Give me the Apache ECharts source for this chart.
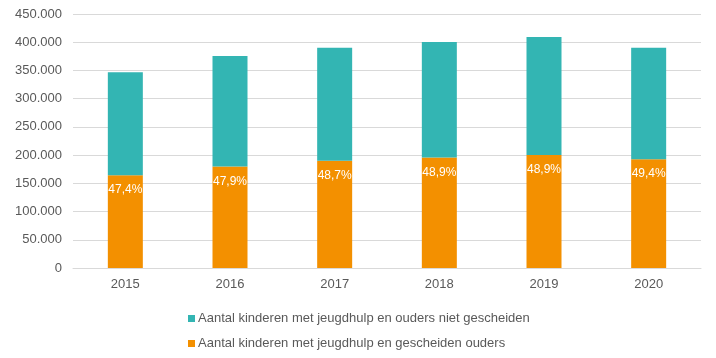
<!DOCTYPE html>
<html><head><meta charset="utf-8">
<script src="https://cdn.jsdelivr.net/npm/echarts@6/dist/echarts.min.js"></script>
<style>html,body{margin:0;padding:0;background:#fff}#c{width:716px;height:358px}</style>
</head><body><div id="c"></div>
<script>
const years = ['2015','2016','2017','2018','2019','2020'];
const gescheiden = [164500, 179900, 190100, 195800, 200100, 192800];
const nietGescheiden = [182500, 195600, 200200, 204600, 209100, 197500];
const percentLabels = ['47,4%','47,9%','48,7%','48,9%','48,9%','49,4%'];
const nameNiet = 'Aantal kinderen met jeugdhulp en ouders niet gescheiden';
const nameGesch = 'Aantal kinderen met jeugdhulp en gescheiden ouders';

const chart = echarts.init(document.getElementById('c'), null, {renderer:'canvas'});
const font = 'Liberation Sans, Arial, sans-serif';
chart.setOption({
  animation:false,
  textStyle:{fontFamily:font},
  grid:{left:73,right:15,top:14,bottom:90},
  legend:{
    orient:'vertical', left:183, top:307,
    itemWidth:7, itemHeight:7, itemGap:12,
    icon:'rect',
    data:[nameNiet, nameGesch],
    textStyle:{color:'#595959', fontSize:13, fontFamily:font, padding:[0,0,0,-2]}
  },
  xAxis:{
    type:'category', data:years,
    axisLine:{lineStyle:{color:'#d9d9d9'}},
    axisTick:{show:false},
    axisLabel:{color:'#595959', fontSize:13, margin:10}
  },
  yAxis:{
    type:'value', min:0, max:450000, interval:50000,
    axisLine:{show:false}, axisTick:{show:false},
    splitLine:{lineStyle:{color:'#d9d9d9'}},
    axisLabel:{color:'#595959', fontSize:13, margin:11,
      formatter:v=>v===0?'0':v.toLocaleString('nl-NL').replace(/,/g,'.')}
  },
  series:[
    {name:nameGesch, type:'bar', stack:'t', data:gescheiden, barWidth:35,
     itemStyle:{color:'#f39000'},
     label:{show:true, position:'insideTop', distance:9, color:'#fff', fontSize:12,
       formatter:p=>percentLabels[p.dataIndex]}},
    {name:nameNiet, type:'bar', stack:'t', data:nietGescheiden, barWidth:35,
     itemStyle:{color:'#33b5b3'}}
  ]
});
</script></body></html>
